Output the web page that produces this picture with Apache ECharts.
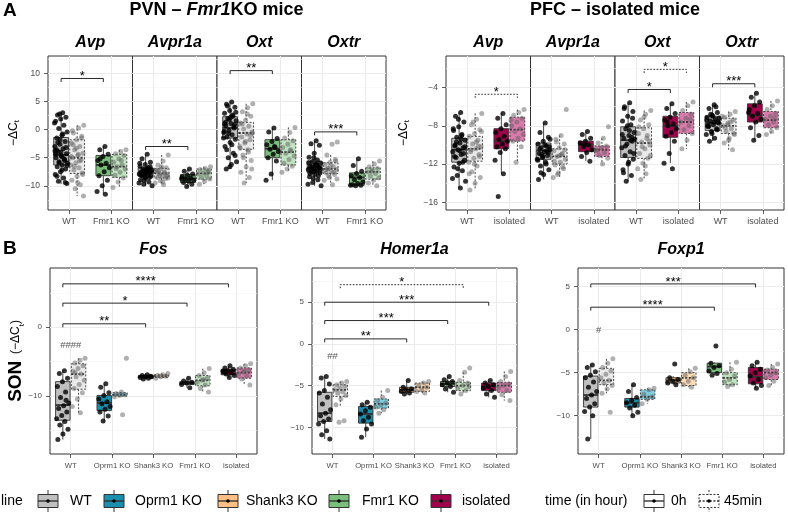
<!DOCTYPE html>
<html>
<head>
<meta charset="utf-8">
<script src="https://cdn.jsdelivr.net/npm/echarts@6/dist/echarts.min.js"></script>
<style>
  html, body { margin: 0; padding: 0; background: #fff; }
  #chart { width: 788px; height: 515px; }
</style>
</head>
<body>
<div id="chart"></div>
<script>
// ---- data ----
const lineNames = ['WT', 'Oprm1 KO', 'Shank3 KO', 'Fmr1 KO', 'isolated'];
const timeNames = ['0h', '45min'];

const pvnGenes = ['Avp', 'Avpr1a', 'Oxt', 'Oxtr'];
const pfcGenes = ['Avp', 'Avpr1a', 'Oxt', 'Oxtr'];
const sonGenes = ['Fos', 'Homer1a', 'Foxp1'];
const pvnLines = [0, 3];
const pfcLines = [0, 4];
const sonLines = [0, 1, 2, 3, 4];

// y ranges and tick labels
const pvnYRange = [-14.3, 13.1];
const pvnYTicks = [-10, -5, 0, 5, 10];
const pvnYMinor = [-12.5, -7.5, -2.5, 2.5, 7.5, 12.5];
const pfcYRange = [-16.8, -0.7];
const pfcYTicks = [-16, -12, -8, -4];
const pfcYMinor = [-14, -10, -6, -2];
const sonYRange = [[-18.4, 8.6], [-13.2, 9.1], [-14.45, 7.15]];
const sonYTicks = [[-10, 0], [-10, -5, 0, 5], [-10, -5, 0, 5]];
const sonYMinor = [[-15, -5, 5], [-12.5, -7.5, -2.5, 2.5, 7.5], [-12.5, -7.5, -2.5, 2.5]];

// boxes: [gene][line] -> [lower whisker, q1, median, q3, upper whisker]
const pvnBox0h = [
  [[-9.7, -6.3, -4.5, -1.4, 3.0], [-11.5, -8.2, -6.3, -4.6, -3.0]],
  [[-10.0, -8.3, -7.6, -6.8, -4.5], [-10.1, -9.4, -8.7, -8.0, -7.0]],
  [[-7.0, -1.5, 0.3, 2.3, 5.0], [-9.0, -5.0, -3.4, -1.8, 0.3]],
  [[-10.0, -7.7, -6.8, -5.6, -2.0], [-10.0, -9.9, -8.5, -7.7, -5.2]]
];
const pvnBox45 = [
  [[-11.8, -7.8, -5.0, -1.8, 0.8], [-10.3, -8.5, -6.6, -4.4, -3.6]],
  [[-9.8, -8.6, -7.8, -6.9, -4.5], [-9.7, -8.8, -7.8, -7.0, -6.6]],
  [[-9.5, -3.5, -0.6, 1.3, 4.6], [-7.6, -6.3, -4.0, -1.8, 0.4]],
  [[-9.8, -7.8, -7.0, -5.9, -4.5], [-10.0, -8.8, -7.5, -6.8, -5.6]]
];
const pfcBox0h = [
  [[-14.5, -11.8, -10.5, -9.3, -6.6], [-13.0, -10.4, -9.6, -8.3, -6.7]],
  [[-13.6, -11.5, -10.6, -9.8, -7.7], [-11.7, -10.7, -10.0, -9.6, -8.6]],
  [[-13.8, -11.3, -9.5, -8.1, -5.6], [-11.9, -9.2, -8.0, -7.0, -5.7]],
  [[-9.6, -8.5, -7.7, -7.0, -5.8], [-9.5, -7.6, -6.9, -5.7, -4.6]]
];
const pfcBox45 = [
  [[-14.7, -11.7, -10.4, -9.1, -6.7], [-11.8, -9.6, -8.4, -7.1, -6.3]],
  [[-13.4, -12.0, -11.2, -10.4, -9.0], [-12.0, -11.2, -10.5, -10.1, -9.3]],
  [[-13.6, -11.4, -9.8, -8.2, -6.4], [-10.4, -8.8, -7.6, -6.6, -5.5]],
  [[-10.5, -8.8, -8.0, -7.2, -6.5], [-8.9, -8.2, -7.4, -6.5, -5.4]]
];
const sonBox0h = [
  [[-16.3, -13.5, -11.3, -7.9, -6.3], [-13.6, -12.1, -11.0, -9.9, -8.2], [-7.5, -7.35, -7.2, -7.0, -6.9], [-8.8, -8.3, -8.1, -7.9, -7.4], [-7.3, -6.9, -6.4, -6.1, -5.6]],
  [[-11.4, -9.3, -8.3, -5.8, -3.9], [-11.2, -9.5, -8.4, -7.5, -7.0], [-6.0, -5.8, -5.5, -5.2, -4.4], [-5.8, -5.1, -4.8, -4.5, -3.9], [-6.4, -5.6, -5.1, -4.7, -4.4]],
  [[-12.7, -9.0, -7.6, -5.4, -4.1], [-10.0, -9.0, -8.5, -8.0, -6.4], [-6.4, -6.2, -5.9, -5.6, -5.4], [-5.3, -5.0, -4.3, -3.9, -3.8], [-6.8, -6.3, -5.5, -4.4, -3.8]]
];
const sonBox45 = [
  [[-12.4, -9.0, -6.8, -5.3, -4.5], [-10.1, -10.0, -9.8, -9.5, -9.4], [-7.4, -7.3, -7.1, -6.9, -6.7], [-9.4, -8.5, -7.7, -7.0, -6.0], [-8.4, -7.4, -6.6, -5.9, -5.3]],
  [[-7.6, -6.3, -5.5, -4.9, -4.5], [-8.3, -7.7, -7.2, -6.6, -5.6], [-5.9, -5.7, -5.2, -4.7, -4.5], [-6.0, -5.6, -5.0, -4.6, -3.4], [-6.8, -5.8, -5.0, -4.6, -3.3]],
  [[-7.4, -6.4, -5.9, -4.5, -3.4], [-8.6, -8.1, -7.8, -7.0, -6.8], [-6.7, -6.5, -5.6, -5.0, -4.5], [-6.6, -6.4, -5.6, -5.0, -3.8], [-6.5, -5.8, -5.0, -4.6, -4.0]]
];

// individual animals: [gene][line] -> values
const pvnPts0h = [
  [[3.0, 2.6, 2.2, 1.9, 1.5, 0.8, 0.2, -0.4, -1.0, -1.5, -2.1, -2.6, -3.0, -3.4, -3.9, -4.3, -4.6, -5.0, -5.3, -5.7, -6.0, -6.3, -6.6, -7.0, -7.5, -8.0, -8.6, -9.2, -9.6, -4.8, -3.6, -5.5,
    2.8, 1.2, -0.8, -2.3, -3.2, -4.0, -4.4, -5.2, -5.9, -6.4, -7.2, -8.3, -9.4, -1.8, -3.8],
   [-3.0, -3.6, -4.4, -4.8, -5.5, -6.0, -6.3, -6.8, -7.5, -8.2, -9.0, -10.0, -11.0, -11.5, -5.2]],
  [[-4.4, -5.2, -5.8, -6.2, -6.5, -6.8, -7.0, -7.2, -7.4, -7.5, -7.6, -7.7, -7.9, -8.0, -8.2, -8.3, -8.6, -8.9, -9.3, -9.7, -10.0, -7.1, -7.8, -6.6, -8.4,
    -6.0, -6.9, -7.3, -7.5, -7.7, -8.1, -8.5, -9.0, -9.5, -7.0, -7.9],
   [-7.0, -7.4, -7.9, -8.1, -8.4, -8.6, -8.8, -9.0, -9.2, -9.4, -9.7, -10.1, -8.7]],
  [[4.9, 4.5, 4.0, 3.4, 2.9, 2.4, 2.0, 1.6, 1.1, 0.7, 0.3, -0.1, -0.5, -0.9, -1.3, -1.7, -2.3, -3.0, -4.2, -5.0, -5.7, -6.2, -7.0, 0.9, 1.8, -0.3, 2.6,
    4.2, 3.1, 2.2, 1.3, 0.5, -0.7, -1.5, -2.7, -3.6, -4.6, -6.6, 1.0],
   [0.3, -0.4, -1.6, -2.1, -2.7, -3.2, -3.5, -3.9, -4.4, -5.0, -5.6, -7.9, -9.0, -3.0]],
  [[-2.0, -2.5, -2.8, -4.2, -4.9, -5.4, -5.7, -6.0, -6.3, -6.5, -6.7, -6.9, -7.1, -7.3, -7.5, -7.7, -8.0, -8.4, -8.9, -9.4, -10.0, -6.2, -7.2, -6.8,
    -5.0, -5.9, -6.4, -6.6, -7.0, -7.4, -7.8, -8.2, -8.7, -9.7, -6.1],
   [-5.2, -6.4, -7.4, -7.8, -8.2, -8.5, -8.9, -9.3, -9.6, -9.8, -9.9, -10.0, -9.9]]
];
const pvnPts45 = [
  [[0.8, 0.3, -0.6, -1.2, -1.8, -2.4, -3.0, -3.6, -4.2, -4.6, -5.0, -5.4, -5.9, -6.3, -6.8, -7.2, -7.7, -8.3, -9.0, -9.8, -10.5, -11.8, -4.4, -2.7,
    -1.5, -3.3, -4.8, -5.6, -6.5, -8.0, -9.4, -0.2],
   [-3.6, -3.9, -4.3, -4.6, -5.2, -5.8, -6.3, -6.6, -7.0, -7.6, -8.1, -8.6, -9.3, -10.3, -5.5, -6.9]],
  [[-4.5, -5.6, -6.3, -6.8, -7.0, -7.3, -7.6, -7.8, -8.0, -8.2, -8.5, -8.7, -9.1, -9.5, -9.8, -7.4, -8.3,
    -6.6, -7.2, -7.7, -8.1, -8.6, -9.3],
   [-6.6, -6.9, -7.1, -7.4, -7.7, -7.9, -8.2, -8.5, -8.8, -9.2, -9.7, -7.6]],
  [[4.6, 3.9, 3.2, 2.4, 1.7, 1.2, 0.6, 0.1, -0.4, -0.8, -1.3, -1.8, -2.4, -3.0, -3.6, -4.5, -5.5, -6.6, -7.6, -8.5, -9.5, -0.6,
    2.8, 1.0, -1.0, -2.1, -3.3, -4.0, -5.0, -7.0],
   [0.4, -0.5, -1.5, -2.0, -2.6, -3.2, -3.8, -4.2, -4.7, -5.3, -6.0, -6.5, -7.0, -7.6, -3.6]],
  [[-2.2, -2.6, -4.5, -5.3, -5.8, -6.2, -6.6, -6.9, -7.1, -7.4, -7.7, -8.0, -8.5, -9.0, -9.8, -7.0,
    -5.6, -6.4, -7.2, -7.6, -8.2, -8.8],
   [-5.6, -6.1, -6.6, -6.9, -7.2, -7.5, -7.8, -8.2, -8.6, -9.0, -9.5, -10.0, -7.4]]
];
const pfcPts0h = [
  [[-6.6, -7.0, -7.6, -8.1, -8.5, -8.9, -9.2, -9.5, -9.8, -10.1, -10.3, -10.5, -10.7, -11.0, -11.3, -11.6, -11.9, -12.3, -12.7, -13.2, -13.8, -14.5, -10.0, -10.9,
    -7.3, -8.3, -9.0, -9.7, -10.2, -10.6, -11.2, -11.8, -12.5, -13.5, -9.4],
   [-6.7, -7.2, -7.9, -8.3, -8.7, -9.1, -9.4, -9.6, -9.9, -10.2, -10.4, -10.8, -11.6, -13.0, -15.4]],
  [[-7.7, -8.7, -9.2, -9.6, -9.9, -10.1, -10.3, -10.5, -10.7, -10.9, -11.1, -11.3, -11.5, -11.8, -12.2, -12.6, -13.1, -13.6, -10.6, -11.0,
    -9.4, -10.0, -10.4, -10.8, -11.2, -11.6, -12.0, -12.9, -10.2],
   [-8.6, -8.9, -9.3, -9.6, -9.8, -10.0, -10.2, -10.5, -10.8, -11.2, -11.7, -10.0]],
  [[-5.6, -6.0, -6.5, -7.0, -7.5, -7.9, -8.3, -8.7, -9.0, -9.3, -9.6, -9.9, -10.3, -10.7, -11.1, -11.5, -12.0, -12.6, -13.2, -13.8, -9.4, -8.5,
    -6.2, -7.2, -8.0, -8.9, -9.5, -10.1, -10.9, -11.8, -12.9, -9.2],
   [-5.7, -6.2, -6.7, -7.1, -7.4, -7.8, -8.0, -8.3, -8.7, -9.1, -9.6, -10.9, -11.9, -12.5, -7.6]],
  [[-5.8, -6.2, -6.6, -6.9, -7.1, -7.3, -7.5, -7.7, -7.9, -8.1, -8.3, -8.6, -8.9, -9.3, -9.6, -7.6, -7.0, -8.0,
    -6.0, -6.8, -7.2, -7.6, -8.0, -8.4, -8.8, -7.4],
   [-4.6, -5.0, -5.5, -5.9, -6.3, -6.7, -7.0, -7.3, -7.6, -8.2, -9.0, -9.5, -6.6]]
];
const pfcPts45 = [
  [[-6.7, -7.3, -7.9, -8.4, -8.8, -9.1, -9.5, -9.9, -10.2, -10.4, -10.7, -11.0, -11.4, -11.8, -12.2, -12.8, -13.4, -14.0, -14.7, -10.1,
    -7.6, -8.6, -9.7, -10.5, -11.2, -12.0, -13.0],
   [-6.3, -6.6, -6.9, -7.2, -7.6, -8.0, -8.3, -8.6, -8.9, -9.3, -9.6, -10.2, -11.8, -7.4]],
  [[-6.3, -9.0, -9.4, -9.9, -10.3, -10.6, -10.9, -11.2, -11.5, -11.8, -12.1, -12.5, -12.9, -13.4, -11.0,
    -9.7, -10.5, -11.1, -11.7, -12.3, -13.1],
   [-8.1, -9.3, -9.8, -10.1, -10.3, -10.5, -10.8, -11.1, -11.4, -12.0, -10.6]],
  [[-6.4, -6.8, -7.4, -7.9, -8.3, -8.8, -9.3, -9.7, -10.0, -10.4, -10.9, -11.4, -11.9, -12.5, -13.0, -13.6, -9.6,
    -7.1, -8.1, -9.0, -10.2, -11.1, -12.2],
   [-5.5, -5.9, -6.4, -6.8, -7.2, -7.6, -8.0, -8.4, -8.8, -9.5, -10.4, -7.3]],
  [[-6.5, -6.8, -7.1, -7.4, -7.7, -8.0, -8.3, -8.6, -8.9, -9.3, -9.8, -10.5, -7.9,
    -7.0, -7.6, -8.2, -8.8, -9.5],
   [-5.4, -5.9, -6.3, -6.7, -7.0, -7.3, -7.6, -7.9, -8.2, -8.6, -8.9, -7.2]]
];
const sonPts0h = [
  [[-6.3, -6.7, -7.4, -7.9, -8.6, -9.4, -10.2, -11.0, -11.4, -11.8, -12.3, -12.8, -13.3, -13.7, -14.2, -14.8, -15.5, -16.3, -10.6],
   [-8.2, -8.7, -9.5, -9.9, -10.4, -10.8, -11.1, -11.5, -11.9, -12.3, -12.9, -13.6],
   [-6.9, -7.0, -7.1, -7.2, -7.3, -7.4, -7.5, -7.2],
   [-7.4, -7.8, -8.0, -8.1, -8.3, -8.8],
   [-5.6, -5.9, -6.1, -6.3, -6.4, -6.6, -6.8, -7.0, -7.3, -6.5]],
  [[-3.9, -4.1, -4.8, -5.6, -5.9, -6.4, -7.2, -7.9, -8.3, -8.6, -9.0, -9.3, -9.6, -10.4, -10.9, -11.4],
   [-7.0, -7.3, -7.6, -8.0, -8.4, -8.8, -9.2, -9.6, -10.2, -11.2],
   [-4.4, -5.2, -5.4, -5.5, -5.7, -5.9, -6.0],
   [-3.9, -4.3, -4.5, -4.7, -4.9, -5.1, -5.4, -5.8],
   [-4.4, -4.7, -4.9, -5.1, -5.3, -5.6, -6.0, -6.4]],
  [[-4.1, -4.4, -4.9, -5.3, -5.6, -6.1, -6.7, -7.2, -7.6, -8.0, -8.6, -9.0, -9.5, -10.0, -12.7],
   [-6.4, -7.2, -7.9, -8.2, -8.5, -8.8, -9.1, -9.6, -10.0],
   [-4.0, -5.6, -5.8, -6.0, -6.2, -6.4],
   [-1.9, -3.9, -4.2, -4.4, -4.8, -5.1, -5.3],
   [-3.8, -4.2, -4.6, -5.0, -5.4, -5.8, -6.2, -6.5, -6.8]]
];
const sonPts45 = [
  [[-4.5, -4.8, -5.2, -5.6, -6.0, -6.4, -6.8, -7.2, -7.7, -8.3, -8.9, -9.5, -10.4, -11.5, -12.4, -6.6],
   [-4.5, -9.4, -9.6, -9.8, -9.9, -10.1, -12.7],
   [-6.7, -6.9, -7.0, -7.1, -7.2, -7.4],
   [-6.0, -6.6, -7.0, -7.4, -7.7, -8.0, -8.4, -8.9, -9.4, -7.6],
   [-5.3, -5.6, -5.9, -6.2, -6.5, -6.8, -7.1, -7.5, -8.4, -6.4]],
  [[-4.5, -4.7, -4.9, -5.1, -5.3, -5.5, -5.7, -5.9, -6.2, -6.6, -7.3, -9.2, -9.4],
   [-5.6, -6.4, -6.8, -7.1, -7.3, -7.6, -7.9, -8.3],
   [-4.5, -4.7, -5.0, -5.2, -5.5, -5.7, -5.9],
   [-2.9, -3.4, -4.4, -4.7, -5.0, -5.3, -5.6, -6.0, -5.1],
   [-3.3, -3.9, -4.5, -4.8, -5.0, -5.3, -5.6, -6.1, -6.8]],
  [[-3.4, -3.9, -4.4, -4.8, -5.2, -5.6, -5.9, -6.2, -6.5, -6.9, -7.4, -9.6],
   [-6.8, -7.0, -7.5, -7.8, -8.1, -8.6],
   [-4.5, -4.9, -5.3, -5.6, -6.0, -6.4, -6.7],
   [-3.8, -4.6, -5.0, -5.4, -5.8, -6.1, -6.4, -6.6],
   [-4.0, -4.4, -4.7, -5.0, -5.3, -5.6, -6.0, -6.5]]
];

// significance: [gene, from, to, time (0 = 0h, 1 = 45min), y, label]
const pvnSig = [[0, 0, 1, 0, 9.1, '*'], [1, 0, 1, 0, -3.0, '**'], [2, 0, 1, 0, 10.5, '**'], [3, 0, 1, 0, -0.4, '***']];
const pfcSig = [[0, 0, 1, 1, -4.7, '*'], [2, 0, 1, 0, -4.2, '*'], [2, 0, 1, 1, -2.1, '*'], [3, 0, 1, 0, -3.6, '***']];
const sonSig = [
  [0, 0, 4, 0, 6.3, '****'], [0, 0, 3, 0, 3.5, '*'], [0, 0, 2, 0, 0.5, '**'],
  [1, 0, 3, 1, 7.1, '*'], [1, 0, 4, 0, 5.0, '***'], [1, 0, 3, 0, 2.8, '***'], [1, 0, 2, 0, 0.6, '**'],
  [2, 0, 4, 0, 5.3, '***'], [2, 0, 3, 0, 2.6, '****']
];
// 0h vs 45min marks: [gene] -> [position, y, label]
const sonHash = [[0, -2.6, '####'], [0, -1.5, '##'], [0, -0.1, '#']];

// ---- styling ----
const FONT = '"Liberation Sans", Arial, Helvetica, sans-serif';
const INK = '#333333';
const TICK_TXT = '#4d4d4d';
const GRID_MAJOR = '#ebebeb';
const GRID_MINOR = '#f5f5f5';
const lineColors = [
  ['#c0c0c0', '#e9e9e9'],
  ['#1b8fae', '#7fcfe2'],
  ['#fdbf84', '#fddcb8'],
  ['#7bbf7c', '#bfe2bf'],
  ['#a1004c', '#d87aab']
];
const DODGE = 0.19;
const HALF_BOX = 0.175;

function jitter(i, t) {
  // spread points evenly across the box width
  return ((((i + 1) * 0.6180339887 + t * 0.37) % 1) - 0.5) * 0.32;
}

function renderBox(params, api) {
  const x = api.value(0);
  const t = api.value(7);
  const lo = api.coord([x, api.value(1)]);
  const q1 = api.coord([x - HALF_BOX, api.value(2)]);
  const md = api.coord([x, api.value(3)]);
  const q3 = api.coord([x + HALF_BOX, api.value(4)]);
  const hi = api.coord([x, api.value(5)]);
  const dash = t ? [2, 1.6] : null;
  const st = (w) => ({ stroke: INK, lineWidth: w, lineDash: dash, fill: null });
  return {
    type: 'group',
    children: [
      { type: 'line', shape: { x1: md[0], y1: hi[1], x2: md[0], y2: q3[1] }, style: st(0.9) },
      { type: 'line', shape: { x1: md[0], y1: q1[1], x2: md[0], y2: lo[1] }, style: st(0.9) },
      { type: 'rect', shape: { x: q1[0], y: q3[1], width: q3[0] - q1[0], height: q1[1] - q3[1] },
        style: { fill: lineColors[api.value(6)][t], stroke: INK, lineWidth: 0.9, lineDash: dash } },
      { type: 'line', shape: { x1: q1[0], y1: md[1], x2: q3[0], y2: md[1] }, style: st(1.8) }
    ]
  };
}

function makeBracketRenderer(sigs) {
  return function (params, api) {
    const a = api.coord([api.value(0), api.value(2)]);
    const b = api.coord([api.value(1), api.value(2)]);
    const dash = api.value(3) ? [1.6, 1.6] : null;
    return {
      type: 'group',
      children: [
        { type: 'polyline', shape: { points: [[a[0], a[1] + 3.5], [a[0], a[1]], [b[0], b[1]], [b[0], b[1] + 3.5]] },
          style: { stroke: '#111', lineWidth: 0.9, fill: null, lineDash: dash } },
        { type: 'text', x: (a[0] + b[0]) / 2, y: a[1] + 4.5,
          style: { text: sigs[params.dataIndex][5], font: '13px ' + FONT, fill: '#000',
                   align: 'center', verticalAlign: 'bottom', textAlign: 'center', textVerticalAlign: 'bottom' } }
      ]
    };
  };
}

// ---- panel layout ----
const panels = [];
pvnGenes.forEach((g, gi) => panels.push({
  left: 48 + gi * 84.5, top: 56, width: 84.5, height: 154, title: g, titleY: 43,
  lines: pvnLines, box0: pvnBox0h[gi], box45: pvnBox45[gi], pts0: pvnPts0h[gi], pts45: pvnPts45[gi],
  sig: pvnSig.filter(s => s[0] === gi), hash: null,
  range: pvnYRange, ticks: pvnYTicks, minor: pvnYMinor, showY: gi === 0, xFont: 9, yFont: 8.5, xGap: 7, dot: 5
}));
pfcGenes.forEach((g, gi) => panels.push({
  left: 446 + gi * 84.5, top: 56, width: 84.5, height: 154, title: g, titleY: 43,
  lines: pfcLines, box0: pfcBox0h[gi], box45: pfcBox45[gi], pts0: pfcPts0h[gi], pts45: pfcPts45[gi],
  sig: pfcSig.filter(s => s[0] === gi), hash: null,
  range: pfcYRange, ticks: pfcYTicks, minor: pfcYMinor, showY: gi === 0, xFont: 9, yFont: 8.5, xGap: 7, dot: 5
}));
const sonLeft = [50, 312, 578];
const sonWidth = [207, 205, 206];
sonGenes.forEach((g, gi) => panels.push({
  left: sonLeft[gi], top: 268, width: sonWidth[gi], height: 186, title: g, titleY: 250,
  lines: sonLines, box0: sonBox0h[gi], box45: sonBox45[gi], pts0: sonPts0h[gi], pts45: sonPts45[gi],
  sig: sonSig.filter(s => s[0] === gi), hash: sonHash[gi],
  range: sonYRange[gi], ticks: sonYTicks[gi], minor: sonYMinor[gi], showY: true, xFont: 7.7, yFont: 8, xGap: 8, dot: 5
}));

const grid = [], xAxis = [], yAxis = [], series = [], graphic = [];
const fmtNum = v => String(v).replace('-', '\u2212');

panels.forEach((p, k) => {
  const n = p.lines.length;
  const xTicks = p.lines.map((_, i) => i);
  grid.push({ left: p.left, top: p.top, width: p.width, height: p.height, show: true,
              borderColor: INK, borderWidth: 1, backgroundColor: '#fff' });
  xAxis.push({
    type: 'value', gridIndex: k, min: -0.5, max: n - 0.5, position: 'bottom',
    axisLine: { show: false, onZero: false },
    axisTick: { show: true, length: 4, lineStyle: { color: INK, width: 0.8 }, customValues: xTicks },
    axisLabel: { customValues: xTicks, formatter: v => lineNames[p.lines[Math.round(v)]],
                 fontSize: p.xFont, color: TICK_TXT, fontFamily: FONT, margin: p.xGap },
    splitLine: { show: true, lineStyle: { color: GRID_MAJOR, width: 1 } }
  });
  yAxis.push({
    type: 'value', gridIndex: k, min: p.range[0], max: p.range[1], position: 'left',
    axisLine: { show: false, onZero: false },
    axisTick: { show: p.showY, length: 4, lineStyle: { color: INK, width: 0.8 }, customValues: p.ticks },
    axisLabel: { show: p.showY, customValues: p.ticks, formatter: fmtNum,
                 fontSize: p.yFont, color: TICK_TXT, fontFamily: FONT, margin: 8 },
    splitLine: { show: true, lineStyle: { color: GRID_MAJOR, width: 1 } }
  });
  yAxis.push({
    type: 'value', gridIndex: k, min: p.range[0], max: p.range[1], position: 'left',
    axisLine: { show: false, onZero: false }, axisLabel: { show: false },
    axisTick: { show: false, customValues: p.minor },
    splitLine: { show: true, lineStyle: { color: GRID_MINOR, width: 0.6 } }
  });

  const boxData = [];
  const pts0 = [], pts45 = [];
  p.lines.forEach((li, i) => {
    boxData.push([i - DODGE].concat(p.box0[i], [li, 0]));
    boxData.push([i + DODGE].concat(p.box45[i], [li, 1]));
    p.pts0[i].forEach((v, j) => pts0.push([i - DODGE + jitter(j, 0), v]));
    p.pts45[i].forEach((v, j) => pts45.push([i + DODGE + jitter(j, 1), v]));
  });
  const yi = 2 * k;
  series.push({ type: 'custom', xAxisIndex: k, yAxisIndex: yi, renderItem: renderBox,
                data: boxData, z: 2, clip: false, silent: true });
  series.push({ type: 'scatter', xAxisIndex: k, yAxisIndex: yi, data: pts45, symbolSize: p.dot,
                itemStyle: { color: 'rgba(95,95,95,0.62)' }, z: 3, silent: true });
  series.push({ type: 'scatter', xAxisIndex: k, yAxisIndex: yi, data: pts0, symbolSize: p.dot,
                itemStyle: { color: '#000' }, z: 4, silent: true });
  if (p.sig.length) {
    series.push({
      type: 'custom', xAxisIndex: k, yAxisIndex: yi, z: 5, clip: false, silent: true,
      renderItem: makeBracketRenderer(p.sig),
      data: p.sig.map(s => [s[1] + (s[3] ? DODGE : -DODGE), s[2] + (s[3] ? DODGE : -DODGE), s[4], s[3]])
    });
  }
  if (p.hash) {
    const h = p.hash;
    series.push({
      type: 'custom', xAxisIndex: k, yAxisIndex: yi, z: 5, clip: false, silent: true,
      data: [[h[0], h[1]]],
      renderItem: (params, api) => {
        const c = api.coord([api.value(0), api.value(1)]);
        return { type: 'text', x: c[0], y: c[1],
                 style: { text: h[2], font: '9.5px ' + FONT, fill: '#555',
                          align: 'center', verticalAlign: 'middle', textAlign: 'center', textVerticalAlign: 'middle' } };
      }
    });
  }
  graphic.push({ type: 'text', x: p.left + p.width / 2, y: p.titleY, silent: true,
                 style: { text: p.title, font: 'italic bold 16px ' + FONT, fill: '#000',
                          align: 'center', verticalAlign: 'middle', textAlign: 'center', textVerticalAlign: 'middle' } });
});

// ---- titles and axis names ----
function txt(x, y, text, font, extra) {
  return Object.assign({ type: 'text', x: x, y: y, silent: true,
    style: { text: text, font: font, fill: '#000', align: 'left', verticalAlign: 'middle',
             textAlign: 'left', textVerticalAlign: 'middle' } }, extra || {});
}
graphic.push(txt(3, 11, 'A', 'bold 19px ' + FONT));
graphic.push(txt(3, 249, 'B', 'bold 19px ' + FONT));
[[216.5, 'PVN \u2013 ', 'Fmr1', 'KO mice'], [615, 'PFC \u2013 isolated mice', '', '']].forEach(t => {
  graphic.push({ type: 'text', x: t[0], y: 10, silent: true,
    style: { text: '{b|' + t[1] + '}' + (t[2] ? '{i|' + t[2] + '}{b|' + t[3] + '}' : ''),
             align: 'center', verticalAlign: 'middle', textAlign: 'center', textVerticalAlign: 'middle',
             rich: { b: { font: 'bold 18px ' + FONT, fill: '#000' }, i: { font: 'italic bold 18px ' + FONT, fill: '#000' } } } });
});
const dctRich = {
  a: { font: '12px ' + FONT, fill: '#000', lineHeight: 14 },
  s: { font: '8px ' + FONT, fill: '#000', lineHeight: 14, verticalAlign: 'bottom' }
};
[14, 404].forEach(x => graphic.push({ type: 'text', x: x, y: 133, rotation: Math.PI / 2, silent: true,
  style: { text: '{a|\u2212\u0394C}{s|t}', rich: dctRich, align: 'center', verticalAlign: 'middle',
           textAlign: 'center', textVerticalAlign: 'middle' } }));
graphic.push({ type: 'text', x: 16, y: 361, rotation: Math.PI / 2, silent: true,
  style: { text: '{b|SON}  {a|(\u2212\u0394C}{s|t}{a|)}', align: 'center', verticalAlign: 'middle',
           textAlign: 'center', textVerticalAlign: 'middle',
           rich: { b: { font: 'bold 19px ' + FONT, fill: '#000', lineHeight: 20 },
                   a: { font: '12px ' + FONT, fill: '#000', lineHeight: 20 },
                   s: { font: '8px ' + FONT, fill: '#000', lineHeight: 17, verticalAlign: 'bottom' } } } });

// ---- legend ----
const LEG_Y = 501;
function legendKey(cx, fill, dashed) {
  const dash = dashed ? [2, 1.6] : null;
  const st = { stroke: INK, lineWidth: 1, lineDash: dash, fill: null };
  return [
    { type: 'line', silent: true, shape: { x1: cx, y1: LEG_Y - 11, x2: cx, y2: LEG_Y + 11 }, style: Object.assign({}, st) },
    { type: 'rect', silent: true, shape: { x: cx - 10, y: LEG_Y - 6.5, width: 20, height: 13 },
      style: { fill: fill, stroke: INK, lineWidth: 1, lineDash: dash } },
    { type: 'line', silent: true, shape: { x1: cx - 10, y1: LEG_Y, x2: cx + 10, y2: LEG_Y }, style: Object.assign({}, st, { lineWidth: 1.4 }) },
    { type: 'circle', silent: true, shape: { cx: cx, cy: LEG_Y, r: 1.8 }, style: { fill: '#000' } }
  ];
}
graphic.push(txt(1, LEG_Y, 'line', '14px ' + FONT));
const legKeyX = [48, 114, 228, 339, 441];
const legTextX = [70, 135, 246, 362, 462];
lineNames.forEach((name, i) => {
  legendKey(legKeyX[i], lineColors[i][0], false).forEach(e => graphic.push(e));
  graphic.push(txt(legTextX[i], LEG_Y, name, '14px ' + FONT));
});
graphic.push(txt(545, LEG_Y, 'time (in hour)', '14px ' + FONT));
const timeKeyX = [654, 709];
const timeTextX = [671, 724];
timeNames.forEach((name, i) => {
  legendKey(timeKeyX[i], '#fff', i === 1).forEach(e => graphic.push(e));
  graphic.push(txt(timeTextX[i], LEG_Y, name, '14px ' + FONT));
});

const chart = echarts.init(document.getElementById('chart'));
chart.setOption({
  animation: false,
  backgroundColor: '#fff',
  textStyle: { fontFamily: FONT },
  grid: grid,
  xAxis: xAxis,
  yAxis: yAxis,
  series: series,
  graphic: { elements: graphic }
});
</script>
</body>
</html>
